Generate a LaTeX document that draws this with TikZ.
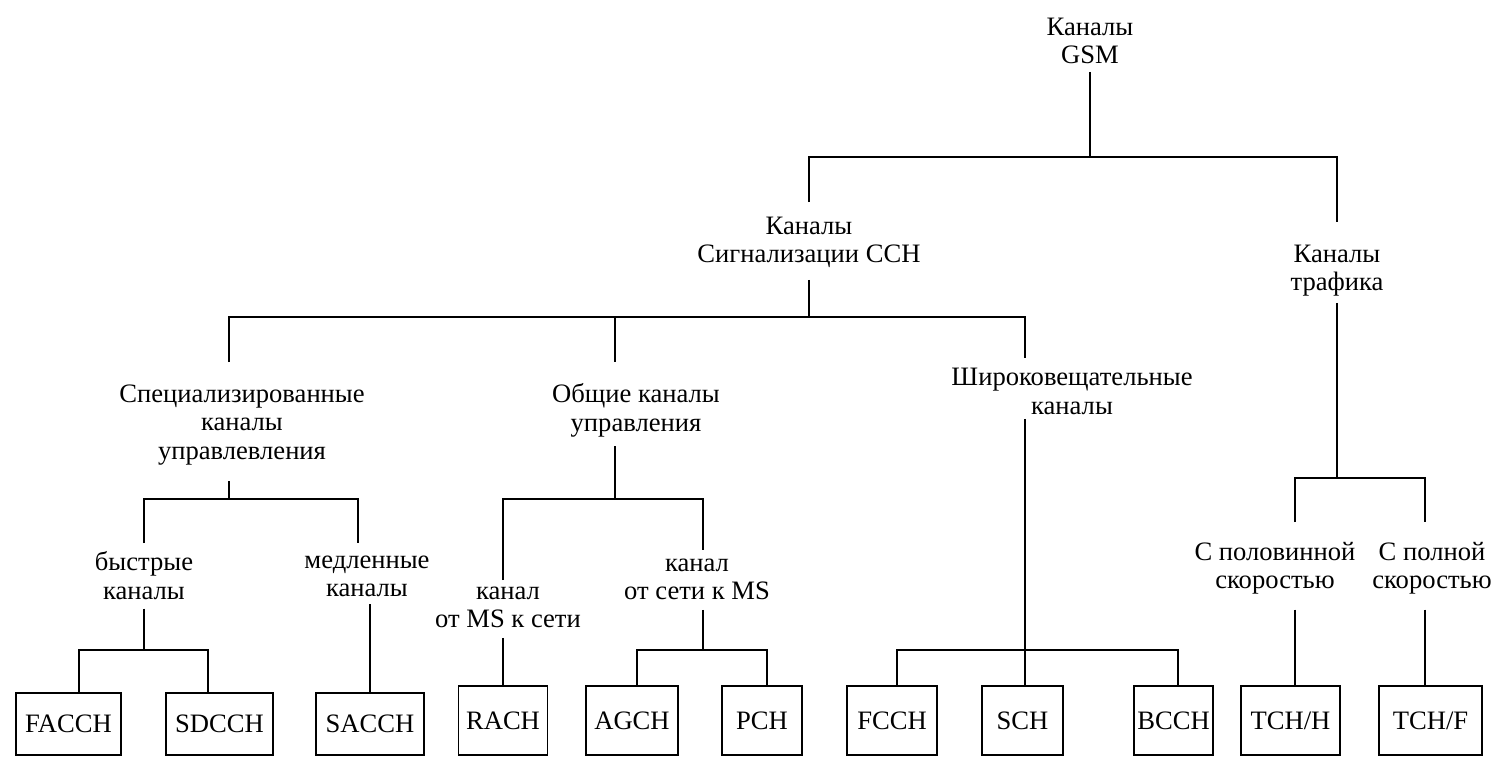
\documentclass[tikz,border=0pt]{standalone}
\usepackage{fontspec}
\setmainfont{Liberation Serif}
\begin{document}
\begin{tikzpicture}[x=0.5pt,y=-0.5pt,
  lbl/.style={align=center,inner sep=2pt,anchor=north,
    font=\fontsize{13.3}{14.2}\selectfont},
  chan/.style={draw,line width=0.8pt,inner sep=0pt,minimum height=34.5pt,
    font=\fontsize{13.3}{14.2}\selectfont},
  low/.style={minimum height=31pt},
  link/.style={line width=0.8pt}]
\useasboundingbox (0,0) rectangle (1493,757);

% ---- labels ----
\node[lbl] (gsm)   at (1090,13.5)  {Каналы\\GSM};
\node[lbl] (cch)   at (809,212.5)  {Каналы\\Сигнализации CCH};
\node[lbl] (traf)  at (1337,240.5) {Каналы\\трафика};
\node[lbl] (spec)  at (242,380.5)  {Специализированные\\каналы\\управлевления};
\node[lbl] (gen)   at (636,379.5)  {Общие каналы\\управления};
\node[lbl] (bcast) at (1072,364)   {Широковещательные\\каналы};
\node[lbl] (fast)  at (144,547.5)  {быстрые\\каналы};
\node[lbl] (slow)  at (367,551.5)  {медленные\\каналы};
\node[lbl] (up)    at (508,582.5)  {канал\\от MS к сети};
\node[lbl] (down)  at (697,554.5)  {канал\\от сети к MS};
\node[lbl] (half)  at (1275,537.5) {С половинной\\скоростью};
\node[lbl] (full)  at (1432,537.5) {С полной\\скоростью};

% ---- channel boxes ----
\node[chan,low,minimum width=52.5pt] (facch) at (68.5,724)   {FACCH};
\node[chan,low,minimum width=53.5pt] (sdcch) at (219.5,724)  {SDCCH};
\node[chan,low,minimum width=54pt]   (sacch) at (370,724)    {SACCH};
\node[chan,minimum width=44.5pt] (rach) at (503,720.5)    {RACH};
\node[chan,minimum width=46pt]   (agch) at (632,720.5)    {AGCH};
\node[chan,minimum width=40pt]   (pch)  at (762,720.5)    {PCH};
\node[chan,minimum width=45pt]   (fcch) at (892,720.5)    {FCCH};
\node[chan,minimum width=40.5pt] (sch)  at (1022.5,720.5) {SCH};
\node[chan,minimum width=39.5pt] (bcch) at (1173.5,720.5) {BCCH};
\node[chan,minimum width=49.5pt] (tchh) at (1290.5,720.5) {TCH/H};
\node[chan,minimum width=51.5pt] (tchf) at (1430.5,720.5) {TCH/F};

% ---- junction points ----
\coordinate (b0) at (1090,157);
\coordinate (l0a) at (809,157);
\coordinate (l0b) at (1337,157);
\coordinate (b1) at (809,317);
\coordinate (b2) at (229,499);
\coordinate (b3) at (615,499);
\coordinate (b4) at (1025,650);
\coordinate (s1) at (144,499);
\coordinate (s2) at (358,499);
\coordinate (g1) at (503,499);
\coordinate (g2) at (703,499);
\coordinate (b5) at (144,650);
\coordinate (f1) at (79,650);
\coordinate (f2) at (208,650);
\coordinate (b6) at (703,650);
\coordinate (a1) at (637,650);
\coordinate (a2) at (767,650);
\coordinate (c1) at (897,650);
\coordinate (c2) at (1178,650);
\coordinate (bt) at (1337,478);
\coordinate (t1) at (1295,478);
\coordinate (t2) at (1425,478);

% ---- GSM channels ----
\draw[link,shorten <=1.75pt] (gsm.south) -- (b0);
\draw[link,shorten <=5.25pt,shorten >=9.25pt]
  (cch.north) -- (l0a) -- (l0b) -- (traf.north);

% ---- signalling channels ----
\draw[link,shorten <=3.75pt] (cch.south) -- (b1);
\draw[link,shorten <=9.25pt,shorten >=3pt]
  (spec.north -| b2) -- (b2 |- b1) -- (b4 |- b1) -- (bcast.north -| b4);
\draw[link,shorten >=8.75pt] (b3 |- b1) -- (gen.north -| b3);

% ---- dedicated control channels ----
\draw[link,shorten <=6pt] (spec.south -| b2) -- (b2);
\draw[link,shorten <=2.25pt,shorten >=4.25pt]
  (fast.north) -- (s1) -- (s2) -- (slow.north -| s2);
\draw[link,shorten <=2.25pt] (fast.south) -- (b5);
\draw[link] (facch.north -| f1) -- (f1) -- (f2) -- (sdcch.north -| f2);
\draw[link,shorten <=1.25pt] (slow.south -| sacch.north) -- (sacch.north);

% ---- common control channels ----
\draw[link,shorten <=2.5pt] (gen.south -| b3) -- (b3);
\draw[link,shorten <=1.25pt,shorten >=2.25pt]
  (up.north -| g1) -- (g1) -- (g2) -- (down.north -| g2);
\draw[link,shorten <=2.75pt] (up.south -| rach.north) -- (rach.north);
\draw[link,shorten <=2.75pt] (down.south -| b6) -- (b6);
\draw[link] (agch.north -| a1) -- (a1) -- (a2) -- (pch.north -| a2);

% ---- broadcast channels ----
\draw[link] (bcast.south -| b4) -- (sch.north -| b4);
\draw[link] (fcch.north -| c1) -- (c1) -- (c2) -- (bcch.north -| c2);

% ---- traffic channels ----
\draw[link,shorten <=1pt] (traf.south) -- (bt);
\draw[link,shorten <=7.75pt,shorten >=7.75pt]
  (half.north -| t1) -- (t1) -- (t2) -- (full.north -| t2);
\draw[link,shorten <=5.5pt] (half.south -| t1) -- (tchh.north -| t1);
\draw[link,shorten <=5.5pt] (full.south -| t2) -- (tchf.north -| t2);
\end{tikzpicture}
\end{document}
